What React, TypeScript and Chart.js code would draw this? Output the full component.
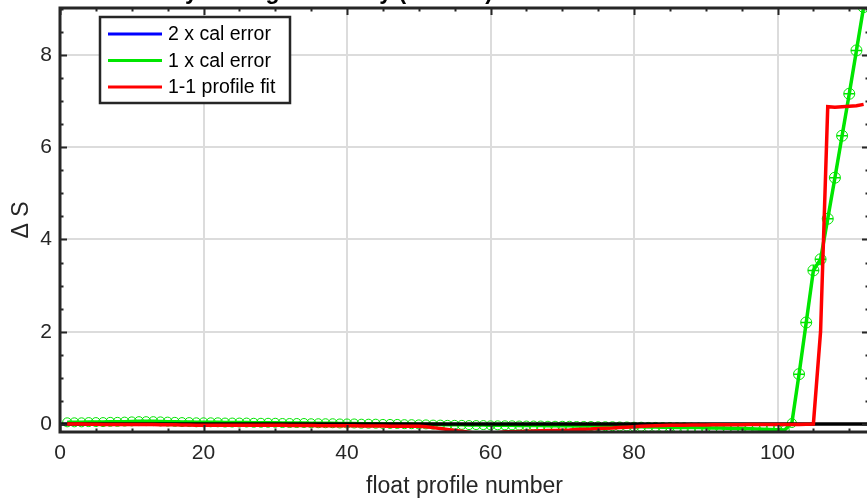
import React, { useEffect, useRef } from 'react';
import { Chart, registerables } from 'chart.js';

Chart.register(...registerables);

// ---------------- data ----------------
const profileNumbers: number[] = Array.from({ length: 112 }, (_, i) => i + 1);

const calError1x: number[] = [
  0.035, 0.035, 0.035, 0.04, 0.04, 0.04, 0.045, 0.045, 0.05, 0.055,
  0.06, 0.06, 0.06, 0.055, 0.05, 0.045, 0.04, 0.04, 0.035, 0.035,
  0.035, 0.035, 0.03, 0.03, 0.03, 0.03, 0.025, 0.025, 0.025, 0.025,
  0.02, 0.02, 0.02, 0.02, 0.015, 0.015, 0.015, 0.015, 0.01, 0.01,
  0.01, 0.005, 0.005, 0.005, 0.0, 0.0, 0.0, -0.005, -0.005, -0.01,
  -0.01, -0.015, -0.015, -0.02, -0.02, -0.02, -0.025, -0.025, -0.025, -0.03,
  -0.03, -0.03, -0.03, -0.035, -0.035, -0.035, -0.035, -0.04, -0.04, -0.04,
  -0.04, -0.045, -0.045, -0.045, -0.05, -0.05, -0.05, -0.055, -0.055, -0.06,
  -0.06, -0.065, -0.065, -0.07, -0.07, -0.075, -0.075, -0.08, -0.08, -0.085,
  -0.09, -0.09, -0.095, -0.1, -0.1, -0.105, -0.11, -0.115, -0.12, -0.125,
  -0.13, 0.02, 1.08, 2.2, 3.33, 3.57, 4.45, 5.34, 6.25, 7.16, 8.1, 9.04,
];

const calError2x: number[] = [
  0.035, 0.035, 0.035, 0.04, 0.04, 0.04, 0.045, 0.045, 0.05, 0.055,
  0.06, 0.06, 0.06, 0.055, 0.05, 0.045, 0.04, 0.04, 0.035, 0.035,
  0.035, 0.035, 0.03, 0.03, 0.03, 0.03, 0.025, 0.025, 0.025, 0.025,
  0.02, 0.02, 0.02, 0.02, 0.015, 0.015, 0.015, 0.015, 0.01, 0.01,
  0.01, 0.005, 0.005, 0.005, 0.0, 0.0, 0.0, -0.005, -0.005, -0.01,
  -0.01, -0.015, -0.015, -0.02, -0.02, -0.02, -0.025, -0.025, -0.025, -0.03,
  -0.03, -0.03, -0.03, -0.035, -0.035, -0.035, -0.035, -0.04, -0.04, -0.04,
  -0.04, -0.045, -0.045, -0.045, -0.05, -0.05, -0.05, -0.055, -0.055, -0.06,
  -0.06, -0.065, -0.065, -0.07, -0.07, -0.075, -0.075, -0.08, -0.08, -0.085,
  -0.09, -0.09, -0.095, -0.1, -0.1, -0.105, -0.11, -0.115, -0.12, -0.125,
  -0.13, 0.02, 1.08, 2.2, 3.33, 3.57, 4.45, 5.34, 6.25, 7.16, 8.1, 9.04,
];

const profileFit: number[] = [
  0.0, 0.0, 0.0, -0.005, -0.005, -0.01, -0.01, -0.01, -0.01, -0.01,
  -0.01, -0.015, -0.015, -0.02, -0.02, -0.02, -0.025, -0.025, -0.03, -0.03,
  -0.03, -0.03, -0.03, -0.03, -0.03, -0.03, -0.03, -0.03, -0.03, -0.03,
  -0.03, -0.035, -0.035, -0.035, -0.035, -0.04, -0.04, -0.04, -0.04, -0.04,
  -0.04, -0.045, -0.045, -0.045, -0.045, -0.05, -0.05, -0.05, -0.05, -0.05,
  -0.06, -0.08, -0.1, -0.12, -0.14, -0.16, -0.18, -0.2, -0.22, -0.24,
  -0.19, -0.17, -0.17, -0.165, -0.16, -0.155, -0.15, -0.145, -0.14, -0.135,
  -0.13, -0.12, -0.115, -0.11, -0.1, -0.095, -0.09, -0.08, -0.07, -0.06,
  -0.05, -0.045, -0.04, -0.035, -0.03, -0.03, -0.03, -0.025, -0.025, -0.025,
  -0.02, -0.02, -0.02, -0.02, -0.02, -0.015, -0.015, -0.015, -0.01, -0.01,
  -0.01, -0.01, -0.01, -0.005, 0.0, 2.0, 6.88, 6.87, 6.88, 6.89, 6.9, 6.93,
];

const zeroLineX: number[] = [0, 113];
const zeroLineY: number[] = [0, 0];

const xTicks: number[] = [0, 20, 40, 60, 80, 100];
const yTicks: number[] = [0, 2, 4, 6, 8];

const X_MIN = 0;
const X_MAX = 112.75;
const Y_MIN = -0.175;
const Y_MAX = 9.02;

const titleText = 'vertically-averaged salinity (PSS-78) additive correction \u0394 S with errors';
const xLabel = 'float profile number';
const yLabel = '\u0394 S';

// ---------------- styles ----------------
const FONT = "'Liberation Sans', Arial, Helvetica, sans-serif";
const INK = '#262626';
const GREEN = '#00e600';
const BLUE = '#0000ff';
const RED = '#ff0000';

const toPoints = (xs: number[], ys: number[]) => xs.map((x, i) => ({ x, y: ys[i] }));

const matlabPlugin = {
  id: 'matlabFrame',
  beforeDraw(chart: any) {
    const { ctx, width, height } = chart;
    ctx.save();
    ctx.fillStyle = '#ffffff';
    ctx.fillRect(0, 0, width, height);
    ctx.restore();
  },
  afterDraw(chart: any) {
    const { ctx, chartArea: a, scales } = chart;
    const xs = scales.x;
    const ys = scales.y;
    ctx.save();
    // minor / major ticks (inward)
    ctx.strokeStyle = INK;
    ctx.lineWidth = 2;
    ctx.beginPath();
    for (let k = 0; k * 5 <= X_MAX; k++) {
      const v = k * 5;
      const px = Math.round(xs.getPixelForValue(v)) + 0.5;
      const len = v % 20 === 0 ? 7 : 3.5;
      ctx.moveTo(px, a.bottom);
      ctx.lineTo(px, a.bottom - len);
      ctx.moveTo(px, a.top);
      ctx.lineTo(px, a.top + len);
    }
    for (let k = 0; k * 0.5 <= Y_MAX; k++) {
      const v = k * 0.5;
      const py = Math.round(ys.getPixelForValue(v)) + 0.5;
      const len = k % 4 === 0 ? 7 : 3.5;
      ctx.moveTo(a.left, py);
      ctx.lineTo(a.left + len, py);
      ctx.moveTo(a.right, py);
      ctx.lineTo(a.right - len, py);
    }
    ctx.stroke();
    // frame
    ctx.lineWidth = 3;
    ctx.strokeRect(a.left, a.top, a.right - a.left, a.bottom - a.top);

    // legend
    const entries = chart.data.datasets
      .filter((d: any) => d.inLegend)
      .sort((p: any, q: any) => p.legendRank - q.legendRank);
    const bx = 100, by = 17, bw = 190, bh = 86;
    ctx.fillStyle = '#ffffff';
    ctx.fillRect(bx, by, bw, bh);
    ctx.lineWidth = 2.5;
    ctx.strokeStyle = INK;
    ctx.strokeRect(bx, by, bw, bh);
    ctx.font = `19.5px ${FONT}`;
    ctx.textBaseline = 'middle';
    ctx.textAlign = 'left';
    entries.forEach((d: any, i: number) => {
      const yy = by + 17 + i * 26.5;
      ctx.strokeStyle = d.legendColor;
      ctx.lineWidth = 3;
      ctx.beginPath();
      ctx.moveTo(bx + 8, yy);
      ctx.lineTo(bx + 62, yy);
      ctx.stroke();
      ctx.fillStyle = '#000000';
      ctx.fillText(d.label, bx + 68, yy + 1);
    });

    // title (cut off at the top edge)
    ctx.font = `bold 23px ${FONT}`;
    ctx.fillStyle = '#000000';
    ctx.textBaseline = 'alphabetic';
    ctx.textAlign = 'left';
    ctx.fillText(titleText, 98, -1.5);
    ctx.restore();
  },
};

export default function App() {
  const ref = useRef<HTMLCanvasElement | null>(null);

  useEffect(() => {
    document.body.style.margin = '0';
    document.body.style.overflow = 'hidden';
    const canvas = ref.current;
    if (!canvas) return;

    const crossRadius = calError2x.map((v) => (v > 0.5 ? 5.5 : 0));
    const circleRadius = calError1x.map((v) => (v > 0.5 ? 5.5 : 4.5));

    const chart = new Chart(canvas, {
      type: 'line',
      data: {
        datasets: [
          {
            label: '1-1 profile fit',
            inLegend: true,
            legendRank: 2,
            legendColor: RED,
            data: toPoints(profileNumbers, profileFit),
            borderColor: RED,
            borderWidth: 3.5,
            pointRadius: 0,
            order: 0,
          } as any,
          {
            label: 'zero',
            inLegend: false,
            data: toPoints(zeroLineX, zeroLineY),
            borderColor: '#000000',
            borderWidth: 3.5,
            pointRadius: 0,
            order: 1,
          } as any,
          {
            label: '1 x cal error',
            inLegend: true,
            legendRank: 1,
            legendColor: GREEN,
            data: toPoints(profileNumbers, calError1x),
            borderColor: GREEN,
            borderWidth: 3.5,
            pointStyle: 'circle',
            pointRadius: circleRadius,
            pointBorderWidth: 1,
            pointBorderColor: GREEN,
            pointBackgroundColor: 'rgba(0,0,0,0)',
            order: 2,
          } as any,
          {
            label: '2 x cal error',
            inLegend: true,
            legendRank: 0,
            legendColor: BLUE,
            data: toPoints(profileNumbers, calError2x),
            borderColor: BLUE,
            borderWidth: 2,
            pointStyle: 'cross',
            pointRadius: crossRadius,
            pointBorderWidth: 1.5,
            pointBorderColor: GREEN,
            order: 3,
          } as any,
        ],
      },
      options: {
        animation: false,
        responsive: false,
        events: [],
        layout: { padding: { top: 8, left: 0, right: 11, bottom: 0 } },
        elements: { line: { tension: 0 } },
        plugins: {
          legend: { display: false },
          tooltip: { enabled: false },
          title: { display: false },
        },
        scales: {
          x: {
            type: 'linear',
            min: X_MIN,
            max: X_MAX,
            afterBuildTicks: (s: any) => {
              s.ticks = xTicks.map((v) => ({ value: v }));
            },
            afterFit: (s: any) => {
              s.height = 68;
              s.paddingLeft = 0;
              s.paddingRight = 0;
            },
            grid: { color: '#dcdcdc', lineWidth: 2, drawTicks: false },
            border: { display: false },
            ticks: {
              color: INK,
              font: { family: FONT, size: 21 },
              padding: 9,
              maxRotation: 0,
              autoSkip: false,
            },
            title: {
              display: true,
              text: xLabel,
              color: INK,
              font: { family: FONT, size: 23 },
              padding: { top: 0, bottom: 0 },
            },
          },
          y: {
            type: 'linear',
            min: Y_MIN,
            max: Y_MAX,
            afterBuildTicks: (s: any) => {
              s.ticks = yTicks.map((v) => ({ value: v }));
            },
            afterFit: (s: any) => {
              s.width = 60;
              s.paddingTop = 0;
              s.paddingBottom = 0;
            },
            grid: { color: '#dcdcdc', lineWidth: 2, drawTicks: false },
            border: { display: false },
            ticks: {
              color: INK,
              font: { family: FONT, size: 21 },
              padding: 8,
              autoSkip: false,
            },
            title: {
              display: true,
              text: yLabel,
              color: INK,
              font: { family: FONT, size: 23 },
              padding: { top: 8, bottom: 0 },
            },
          },
        },
      } as any,
      plugins: [matlabPlugin],
    });

    return () => chart.destroy();
  }, []);

  return (
    <div style={{ position: 'fixed', left: 0, top: 0, width: 880, height: 500, overflow: 'hidden' }}>
      <canvas ref={ref} width={880} height={500} style={{ width: 880, height: 500, display: 'block' }} />
    </div>
  );
}
